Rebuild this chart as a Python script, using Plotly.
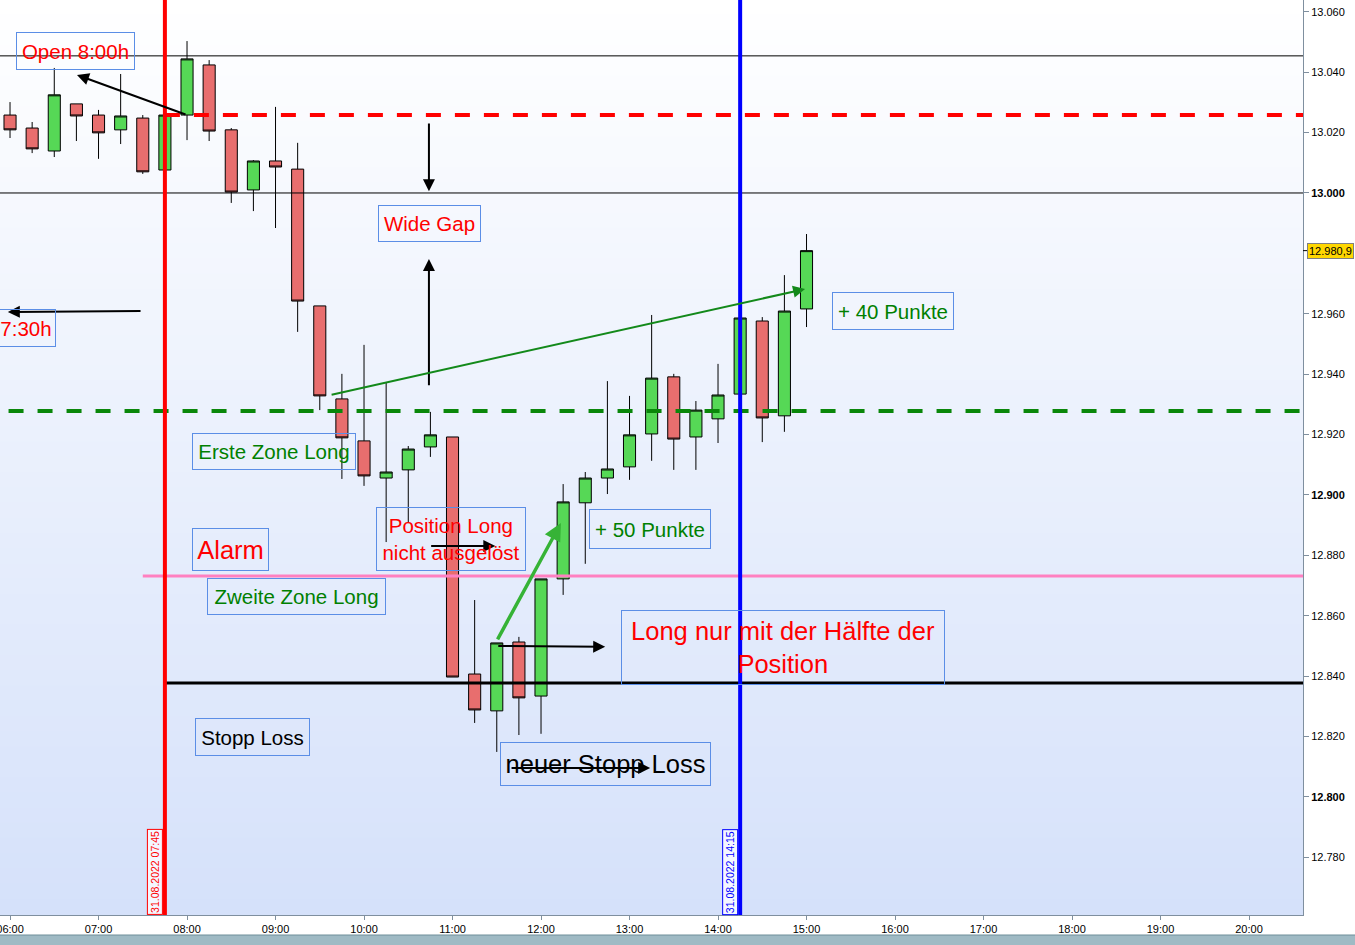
import plotly.graph_objects as go

# ---------------- data ----------------
DAY = "2022-08-31 "
times = ["06:00", "06:15", "06:30", "06:45", "07:00", "07:15", "07:30", "07:45",
         "08:00", "08:15", "08:30", "08:45", "09:00", "09:15", "09:30", "09:45",
         "10:00", "10:15", "10:30", "10:45", "11:00", "11:15", "11:30", "11:45",
         "12:00", "12:15", "12:30", "12:45", "13:00", "13:15", "13:30", "13:45",
         "14:00", "14:15", "14:30", "14:45", "15:00"]
opens = [13025.8, 13021.5, 13013.9, 13029.5, 13025.8, 13020.9, 13024.8, 13007.6,
         13025.8, 13042.4, 13020.9, 13001.0, 13010.6, 13007.9, 12962.6, 12931.8,
         12917.9, 12905.6, 12908.3, 12915.9, 12919.2, 12840.7, 12828.5, 12851.3,
         12833.4, 12872.2, 12897.4, 12905.6, 12909.3, 12920.2, 12939.1, 12919.2,
         12925.2, 12933.4, 12957.6, 12926.2, 12961.6]
highs = [13030.1, 13023.5, 13041.4, 13029.5, 13027.5, 13039.4, 13025.8, 13025.8,
         13050.3, 13044.0, 13021.5, 13010.9, 13028.5, 13016.6, 12962.6, 12940.1,
         12949.7, 12937.4, 12916.2, 12927.5, 12919.2, 12865.2, 12851.0, 12853.0,
         12872.2, 12903.6, 12907.6, 12937.7, 12932.8, 12959.6, 12940.1, 12931.1,
         12943.4, 12958.6, 12958.9, 12972.8, 12986.4]
lows = [13018.2, 13013.2, 13011.9, 13017.2, 13011.3, 13016.2, 13006.3, 13007.6,
        13017.5, 13017.2, 12996.7, 12994.0, 12988.4, 12954.0, 12928.1, 12905.3,
        12903.0, 12884.4, 12890.7, 12912.6, 12839.7, 12824.5, 12814.9, 12820.5,
        12820.9, 12866.9, 12877.2, 12900.3, 12905.0, 12911.3, 12908.3, 12908.3,
        12917.2, 12933.4, 12917.5, 12920.9, 12955.6]
closes = [13020.9, 13014.6, 13032.5, 13025.5, 13019.9, 13025.5, 13007.0, 13025.8,
          13044.4, 13020.5, 13000.3, 13010.6, 13008.6, 12964.2, 12932.8, 12918.9,
          12906.3, 12907.6, 12915.2, 12919.9, 12839.7, 12828.8, 12851.0, 12832.8,
          12872.2, 12897.7, 12905.6, 12908.6, 12919.9, 12938.7, 12918.5, 12928.1,
          12933.1, 12958.6, 12925.5, 12960.9, 12980.9]

last_price_label = "12.980,9"
level_upper = 13045.4
level_13000 = 13000.0
open_level = 13025.8
zone1_level = 12927.8
alarm_level = 12873.2
stop_level = 12837.7

ytick_vals = [12780, 12800, 12820, 12840, 12860, 12880, 12900, 12920, 12940,
              12960, 13000, 13020, 13040, 13060]
ytick_text = ["12.780", "<b>12.800</b>", "12.820", "12.840", "12.860", "12.880",
              "<b>12.900</b>", "12.920", "12.940", "12.960",
              "<b>13.000</b>", "13.020", "13.040", "13.060"]

# ---------------- figure ----------------
W, H = 1355, 945
ML, MR, MT, MB = 0, 52, 0, 30
PW, PH = W - ML - MR, H - MT - MB
FONT = "Liberation Sans, Arial, sans-serif"

x = [DAY + t for t in times]

fig = go.Figure(go.Candlestick(
    x=x, open=opens, high=highs, low=lows, close=closes,
    increasing=dict(fillcolor="#56d856", line=dict(color="#000000", width=1)),
    decreasing=dict(fillcolor="#e86e6e", line=dict(color="#000000", width=1)),
    whiskerwidth=0, hoverinfo="skip", showlegend=False,
))

shapes = []
# background gradient (white top -> light blue bottom)
N = 60
c0 = (255, 255, 255)
c1 = (213, 225, 250)
for i in range(N):
    f = (i + 0.5) / N
    col = tuple(round(c0[k] + (c1[k] - c0[k]) * f) for k in range(3))
    shapes.append(dict(type="rect", xref="paper", yref="paper",
                       x0=0, x1=1, y0=1 - (i + 1) / N, y1=1 - i / N + 0.001,
                       fillcolor="rgb(%d,%d,%d)" % col, line=dict(width=0),
                       layer="below"))
# bottom status bar
shapes.append(dict(type="rect", xref="paper", yref="paper",
                   x0=-0.01, x1=W / PW + 0.01, y0=-(H - PH) / PH - 0.01, y1=-20 / PH,
                   fillcolor="#9fbac4", line=dict(width=0)))
shapes.append(dict(type="line", xref="paper", yref="paper",
                   x0=-0.01, x1=W / PW + 0.01, y0=-20 / PH, y1=-20 / PH,
                   line=dict(color="#6f8e99", width=1)))

t_start = DAY + "05:00"
t_end = DAY + "22:00"
# thin black levels
for lv in (level_upper, level_13000):
    shapes.append(dict(type="line", xref="x", yref="y", x0=t_start, x1=t_end,
                       y0=lv, y1=lv, line=dict(color="#000000", width=1)))
# red dashed open level
shapes.append(dict(type="line", xref="x", yref="y", x0=DAY + "07:45", x1=t_end,
                   y0=open_level, y1=open_level,
                   line=dict(color="#ff0000", width=4, dash="15px,14px")))
# green dashed zone
shapes.append(dict(type="line", xref="x", yref="y", x0=DAY + "05:59", x1=t_end,
                   y0=zone1_level, y1=zone1_level,
                   line=dict(color="#0a870a", width=4, dash="15px,14px")))
# pink alarm
shapes.append(dict(type="line", xref="x", yref="y", x0=DAY + "07:30", x1=t_end,
                   y0=alarm_level, y1=alarm_level,
                   line=dict(color="#ff80c0", width=3)))
# black stop loss
shapes.append(dict(type="line", xref="x", yref="y", x0=DAY + "07:45", x1=t_end,
                   y0=stop_level, y1=stop_level,
                   line=dict(color="#000000", width=3)))
# vertical markers
shapes.append(dict(type="line", xref="x", yref="paper", x0=DAY + "07:45",
                   x1=DAY + "07:45", y0=0, y1=1, line=dict(color="#ff0000", width=4)))
shapes.append(dict(type="line", xref="x", yref="paper", x0=DAY + "14:15",
                   x1=DAY + "14:15", y0=0, y1=1, line=dict(color="#0000ff", width=4)))
# small tick for the last-price marker on the axis
shapes.append(dict(type="line", xref="paper", yref="y", x0=1, x1=1 + 5 / PW,
                   y0=closes[-1], y1=closes[-1], line=dict(color="#000000", width=1)))

annotations = []


def box(x0, x1, y0, y1, text, color, size):
    annotations.append(dict(
        xref="paper", yref="paper", x=(x0 + x1) / 2 / PW, y=1 - (y0 + y1) / 2 / PH,
        xanchor="center", yanchor="middle", text=text, showarrow=False,
        font=dict(family=FONT, size=size, color=color),
        bordercolor="#5b8ee6", borderwidth=1, borderpad=0,
        width=x1 - x0 - 2, height=y1 - y0 - 2, align="center", valign="middle"))


def arrow(t_tail, p_tail, t_head, p_head, color, width, size=1.2):
    annotations.append(dict(
        xref="x", yref="y", axref="x", ayref="y",
        x=DAY + t_head, y=p_head, ax=DAY + t_tail, ay=p_tail,
        text="", showarrow=True, arrowhead=2, arrowsize=size,
        arrowwidth=width, arrowcolor=color, standoff=0, startstandoff=0))


RED = "#ff0000"
GREEN = "#008000"
BLACK = "#000000"
SMALL = 20.5
BIG = 25.5

# arrows
arrow("08:00:00", 13025.8, "06:45:24", 13039.1, BLACK, 2)
arrow("07:29:30", 12960.9, "05:58:30", 12960.6, BLACK, 2)
arrow("10:44:00", 13023.5, "10:44:00", 13000.6, BLACK, 2)
arrow("10:44:00", 12935.8, "10:44:00", 12978.1, BLACK, 2)
arrow("09:37:00", 12933.1, "14:59:00", 12968.2, "#13891a", 2)
arrow("11:30:00", 12851.7, "12:13:30", 12890.7, "#36b336", 3.5, 1.0)
arrow("11:30:00", 12850.0, "12:43:30", 12849.7, BLACK, 2)
arrow("10:44:30", 12883.1, "11:29:00", 12883.1, BLACK, 2)
arrow("11:39:00", 12809.6, "13:14:00", 12809.6, BLACK, 2)

# text boxes
box(16, 135, 32, 70, "Open 8:00h", RED, SMALL)
box(-4, 56, 309, 347, "7:30h", RED, SMALL)
box(378, 481, 205, 242, "Wide Gap", RED, SMALL)
box(192, 356, 433, 470, "Erste Zone Long", GREEN, SMALL)
box(192, 269, 528, 571, "Alarm", RED, BIG)
box(207, 386, 578, 615, "Zweite Zone Long", GREEN, SMALL)
box(376, 526, 507, 571, "Position Long<br>nicht ausgelöst", RED, SMALL)
box(589, 711, 509, 549, "+ 50 Punkte", GREEN, SMALL)
box(621, 945, 610, 685, "Long nur mit der Hälfte der<br>Position", RED, BIG)
box(195, 310, 718, 756, "Stopp Loss", BLACK, SMALL)
box(500, 711, 742, 786, "neuer Stopp Loss", BLACK, BIG)
box(832, 954, 292, 330, "+ 40 Punkte", GREEN, SMALL)

# vertical date labels
for t, col in (("07:45", "#ff0000"), ("14:15", "#0000ff")):
    annotations.append(dict(
        xref="x", yref="paper", x=DAY + t, y=0, xanchor="right", yanchor="bottom",
        xshift=-2, textangle=-90, text="31.08.2022 " + t, showarrow=False,
        font=dict(family=FONT, size=10.5, color=col),
        bordercolor=col, borderwidth=1, borderpad=1, bgcolor="#f4f7ff"))

# last price label on the axis
annotations.append(dict(
    xref="paper", yref="y", x=1 + 4 / PW, y=closes[-1], xanchor="left",
    yanchor="middle", text=last_price_label, showarrow=False,
    font=dict(family=FONT, size=11, color="#000000"),
    bgcolor="#ffd700", bordercolor="#808080", borderwidth=1, borderpad=1))

fig.update_layout(
    width=W, height=H, margin=dict(l=ML, r=MR, t=MT, b=MB, autoexpand=False),
    paper_bgcolor="#ffffff", plot_bgcolor="#eef3fe",
    font=dict(family=FONT, size=11, color="#000000"),
    boxgap=0.22,
    shapes=shapes, annotations=annotations, showlegend=False,
    xaxis=dict(type="date", range=[DAY + "05:53:12", DAY + "20:36:36"],
               tickformat="%H:%M", dtick=3600000, tick0=DAY + "06:00",
               ticks="outside", ticklen=4, tickcolor="#7f8f9f",
               ticklabeloverflow="allow", automargin=False,
               showgrid=False, zeroline=False, showline=True, linecolor="#7f8f9f",
               rangeslider=dict(visible=False),
               tickfont=dict(family=FONT, size=11, color="#000000")),
    yaxis=dict(side="right", range=[12760.9, 13063.9], automargin=False,
               tickmode="array", tickvals=ytick_vals, ticktext=ytick_text,
               ticks="outside", ticklen=5, tickcolor="#7f8f9f",
               showgrid=False, zeroline=False, showline=True, linecolor="#7f8f9f",
               tickfont=dict(family=FONT, size=11, color="#000000")),
)

fig.write_html("out.html", config={"displayModeBar": False},
               post_script="document.body.style.margin='0';")
